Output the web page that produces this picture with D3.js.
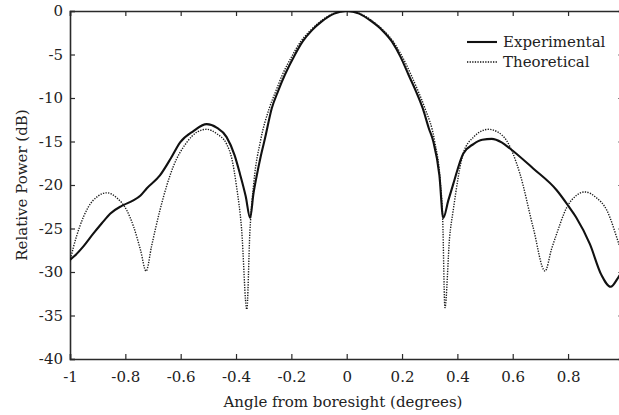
<!DOCTYPE html>
<html>
<head>
<meta charset="utf-8">
<script src="https://cdn.jsdelivr.net/npm/d3@7"></script>
<style>
  body { margin: 0; background: #fff; }
</style>
</head>
<body>
<div id="chart"></div>
<script>
// measured pattern, angle (deg) / power (dB)
let expAngle = [-1, -0.985, -0.95, -0.916, -0.885, -0.855, -0.813, -0.773, -0.745, -0.723, -0.675, -0.635,
  -0.602, -0.554, -0.506, -0.47, -0.434, -0.405, -0.386, -0.365, -0.349, -0.337, -0.325, -0.31, -0.295,
  -0.271, -0.248, -0.223, -0.19, -0.159, -0.125, -0.09, -0.045, 0, 0.045, 0.09, 0.128, 0.163, 0.195,
  0.223, 0.25, 0.275, 0.297, 0.313, 0.335, 0.349, 0.367, 0.385, 0.421, 0.458, 0.49, 0.524, 0.56, 0.59,
  0.674, 0.759, 0.801, 0.829, 0.879, 0.92, 0.954, 0.984, 1.0];
let expPower = [-28.6, -28.2, -27.0, -25.6, -24.4, -23.3, -22.4, -21.8, -21.2, -20.4, -18.9, -16.9,
  -15.1, -13.8, -13.0, -13.4, -14.5, -16.6, -18.7, -21.3, -23.8, -21.0, -18.9, -16.6, -14.6,
  -11.2, -9.2, -7.3, -5.2, -3.5, -2.2, -1.2, -0.3, 0, -0.3, -1.2, -2.2, -3.5, -5.3,
  -7.3, -9.2, -11.2, -13.5, -15.0, -18.9, -23.8, -21.8, -19.9, -16.4, -15.3, -14.8, -14.7, -15.1, -15.8,
  -18.1, -20.6, -22.4, -23.7, -26.8, -30.3, -31.7, -30.5, -29.8];

// theoretical pattern
let thAngle = [-1, -0.988, -0.965, -0.935, -0.9, -0.867, -0.83, -0.795, -0.77, -0.745, -0.725, -0.705,
  -0.675, -0.627, -0.578, -0.54, -0.506, -0.47, -0.434, -0.415, -0.398, -0.38, -0.361, -0.35, -0.335,
  -0.312, -0.28, -0.256, -0.232, -0.198, -0.166, -0.13, -0.095, -0.048, 0, 0.048, 0.095, 0.132, 0.168,
  0.2, 0.232, 0.258, 0.283, 0.318, 0.338, 0.347, 0.355, 0.372, 0.385, 0.421, 0.458, 0.512, 0.545, 0.578,
  0.626, 0.674, 0.717, 0.74, 0.759, 0.795, 0.83, 0.861, 0.9, 0.94, 0.984, 1.0];
let thPower = [-28.8, -27.2, -24.8, -22.6, -21.3, -20.9, -21.5, -22.9, -24.8, -27.5, -29.9, -27.0,
  -22.9, -17.9, -15.1, -13.9, -13.6, -14.1, -15.3, -17.0, -20.2, -25.0, -34.3, -25.5, -19.5,
  -15.0, -11.2, -9.2, -7.3, -5.2, -3.5, -2.2, -1.2, -0.3, 0, -0.3, -1.2, -2.2, -3.5,
  -5.2, -7.3, -9.2, -11.2, -15.0, -19.5, -24.0, -34.1, -26.0, -22.9, -16.4, -14.5, -13.6, -13.9, -14.9,
  -18.7, -24.9, -29.9, -27.4, -25.6, -22.6, -21.2, -20.8, -21.4, -22.9, -26.8, -28.3];

let seriesNames = ["Experimental", "Theoretical"];
let xTicks = [-1, -0.8, -0.6, -0.4, -0.2, 0, 0.2, 0.4, 0.6, 0.8];
let yTicks = [0, -5, -10, -15, -20, -25, -30, -35, -40];

const width = 619, height = 415;
const margin = { left: 70, top: 11 };
const plotW = 553.4, plotH = 348;
const serif = "'DejaVu Serif', serif";
const fs = "15px";

let svg = d3.select("#chart").append("svg")
  .attr("width", width)
  .attr("height", height)
  .attr("font-family", serif);

let g = svg.append("g").attr("transform", `translate(${margin.left}, ${margin.top})`);

let x = d3.scaleLinear().domain([-1, 1]).range([0, plotW]);
let y = d3.scaleLinear().domain([-40, 0]).range([plotH, 0]);

svg.append("clipPath").attr("id", "clip")
  .append("rect").attr("width", plotW).attr("height", plotH);

const tickFmt = (d) => d3.format("")(d).replace("−", "-");

function styleAxis(a) {
  a.attr("font-family", serif);
  a.select(".domain").attr("stroke", "#2a2a2a").attr("stroke-width", 1.6);
  a.selectAll(".tick line").attr("stroke", "#2a2a2a").attr("stroke-width", 1.2);
  a.selectAll("text").style("font-family", serif).style("font-size", fs).attr("fill", "#222");
}

g.append("g")
  .attr("transform", `translate(0, ${plotH})`)
  .call(d3.axisBottom(x).tickValues(xTicks).tickSize(-5).tickPadding(12).tickFormat(tickFmt))
  .call(styleAxis);

g.append("g")
  .call(d3.axisLeft(y).tickValues(yTicks).tickSize(-5).tickPadding(7).tickFormat(tickFmt))
  .call(styleAxis);

g.append("g")
  .call(d3.axisTop(x).tickValues(xTicks).tickSize(-5).tickFormat(""))
  .call(styleAxis);

g.append("g")
  .attr("transform", `translate(${plotW}, 0)`)
  .call(d3.axisRight(y).tickValues(yTicks).tickSize(-5).tickFormat(""))
  .call(styleAxis);

let line = d3.line()
  .x((d) => x(d[0]))
  .y((d) => y(d[1]))
  .curve(d3.curveMonotoneX);

let plot = g.append("g").attr("clip-path", "url(#clip)");

plot.append("path")
  .datum(thAngle.map((a, i) => [a, thPower[i]]))
  .attr("d", line)
  .attr("fill", "none")
  .attr("stroke", "#1a1a1a")
  .attr("stroke-width", 1.4)
  .attr("stroke-dasharray", "1.3,1.3");

plot.append("path")
  .datum(expAngle.map((a, i) => [a, expPower[i]]))
  .attr("d", line)
  .attr("fill", "none")
  .attr("stroke", "#111")
  .attr("stroke-width", 2.1);

// legend
let legend = svg.append("g").attr("transform", "translate(467, 42)");
seriesNames.forEach((name, i) => {
  legend.append("line")
    .attr("x1", 0).attr("x2", 30)
    .attr("y1", i * 20).attr("y2", i * 20)
    .attr("stroke", "#111")
    .attr("stroke-width", i === 0 ? 2.1 : 1.4)
    .attr("stroke-dasharray", i === 0 ? null : "1.3,1.3");
  legend.append("text")
    .attr("x", 36).attr("y", i * 20 + 5)
    .style("font-family", serif)
    .style("font-size", fs)
    .attr("fill", "#222")
    .text(name);
});

svg.append("text")
  .attr("x", 343).attr("y", 407)
  .attr("text-anchor", "middle")
  .style("font-family", serif)
  .style("font-size", fs)
  .attr("fill", "#222")
  .text("Angle from boresight (degrees)");

svg.append("text")
  .attr("transform", `translate(27, ${margin.top + plotH / 2}) rotate(-90)`)
  .attr("text-anchor", "middle")
  .style("font-family", serif)
  .style("font-size", fs)
  .attr("fill", "#222")
  .text("Relative Power (dB)");
</script>
</body>
</html>
